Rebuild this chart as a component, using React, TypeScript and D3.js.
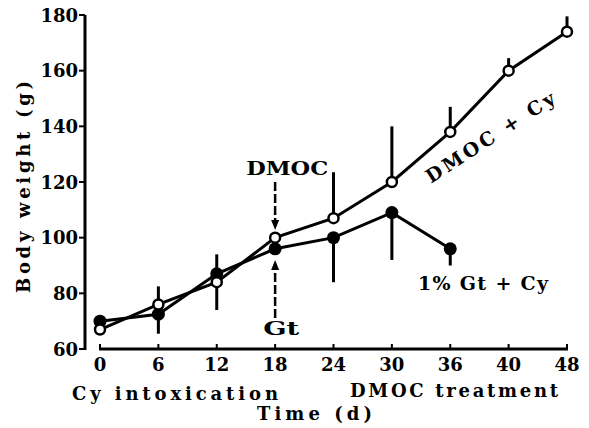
import React from "react";
import * as d3 from "d3";

const xLabels = ["0", "6", "12", "18", "24", "30", "36", "40", "48"];
const yTicks = [60, 80, 100, 120, 140, 160, 180];

// DMOC + Cy (open circles)
const dmocValues = [67, 76, 84, 100, 107, 120, 138, 160, 174];
const dmocErrUp = [0, 0, 10, 0, 16.5, 20, 9, 4.5, 5.5];
const dmocErrDown = [0, 0, 10, 0, 0, 0, 0, 0, 0];

// 1% Gt + Cy (filled circles)
const gtValues = [70, 72.5, 87, 96, 100, 109, 96];
const gtErrUp = [0, 10, 0, 0, 0, 0, 0];
const gtErrDown = [0, 7, 0, 0, 16, 17, 6];

const W = 589;
const H = 428;
const FONT = "'DejaVu Serif', serif";

export default function App() {
  const x = d3.scalePoint<string>().domain(xLabels).range([100, 567]);
  const y = d3.scaleLinear().domain([60, 180]).range([349, 15]);
  const line = d3
    .line<number>()
    .x((_, i) => x(xLabels[i]) as number)
    .y((d) => y(d));

  const errBars = (vals: number[], up: number[], down: number[], key: string) =>
    vals.map((v, i) =>
      up[i] || down[i] ? (
        <line
          key={key + i}
          x1={x(xLabels[i])}
          x2={x(xLabels[i])}
          y1={y(v + up[i])}
          y2={y(v - down[i])}
          stroke="#000"
          strokeWidth={3}
        />
      ) : null
    );

  const x18 = x("18") as number;

  return (
    <svg
      width={W}
      height={H}
      style={{ position: "absolute", left: 0, top: 0, background: "#fff" }}
      fontFamily={FONT}
    >
      <rect width={W} height={H} fill="#fff" />
      {/* Y axis */}
      <line x1={85} x2={85} y1={y(180)} y2={y(60) + 1} stroke="#000" strokeWidth={3} />
      {yTicks.map((t) => (
        <g key={t}>
          <line x1={79} x2={85} y1={y(t)} y2={y(t)} stroke="#000" strokeWidth={2} />
          <text
            x={78}
            y={y(t)}
            textAnchor="end"
            dominantBaseline="central"
            fontSize={18}
            fontWeight="bold"
          >
            {t}
          </text>
        </g>
      ))}
      {/* X axis */}
      <line x1={99} x2={568} y1={349} y2={349} stroke="#000" strokeWidth={3} />
      {xLabels.map((l) => (
        <g key={l}>
          <line x1={x(l)} x2={x(l)} y1={349} y2={344} stroke="#000" strokeWidth={2} />
          <text
            x={x(l)}
            y={364}
            textAnchor="middle"
            dominantBaseline="central"
            fontSize={18}
            fontWeight="bold"
          >
            {l}
          </text>
        </g>
      ))}

      {/* Axis titles */}
      <text
        transform="translate(23,187) rotate(-90)"
        textAnchor="middle"
        dominantBaseline="central"
        fontSize={18}
        fontWeight="bold"
        textLength={212}
        lengthAdjust="spacing"
      >
        Body weight (g)
      </text>
      <text x={72} y={393} dominantBaseline="central" fontSize={18} fontWeight="bold" textLength={206} lengthAdjust="spacing">
        Cy intoxication
      </text>
      <text x={350} y={390} dominantBaseline="central" fontSize={18} fontWeight="bold" textLength={208} lengthAdjust="spacing">
        DMOC treatment
      </text>
      <text x={257} y={413} dominantBaseline="central" fontSize={18} fontWeight="bold" textLength={115} lengthAdjust="spacing">
        Time (d)
      </text>

      {/* Annotation arrows at day 18 */}
      <text x={x18 + 12} y={168} textAnchor="middle" dominantBaseline="central" fontSize={19} fontWeight="bold" textLength={82} lengthAdjust="spacingAndGlyphs">
        DMOC
      </text>
      <line x1={x18} x2={x18} y1={182} y2={222} stroke="#000" strokeWidth={2.5} strokeDasharray="9 3" />
      <path d={`M${x18 - 4},${220} L${x18 + 4},${220} L${x18},${230} Z`} fill="#000" />
      <line x1={x18} x2={x18} y1={318} y2={266} stroke="#000" strokeWidth={2.5} strokeDasharray="9 3" />
      <path d={`M${x18 - 4},${270} L${x18 + 4},${270} L${x18},${260} Z`} fill="#000" />
      <text x={x18 + 6} y={328} textAnchor="middle" dominantBaseline="central" fontSize={19} fontWeight="bold" textLength={36} lengthAdjust="spacingAndGlyphs">
        Gt
      </text>

      {/* Error bars */}
      {errBars(dmocValues, dmocErrUp, dmocErrDown, "d")}
      {errBars(gtValues, gtErrUp, gtErrDown, "g")}

      {/* Lines */}
      <path d={line(gtValues) || ""} fill="none" stroke="#000" strokeWidth={3} />
      <path d={line(dmocValues) || ""} fill="none" stroke="#000" strokeWidth={3} />

      {/* Markers */}
      {gtValues.map((v, i) => (
        <circle key={"gc" + i} cx={x(xLabels[i])} cy={y(v)} r={6.5} fill="#000" />
      ))}
      {dmocValues.map((v, i) => (
        <circle key={"dc" + i} cx={x(xLabels[i])} cy={y(v)} r={5} fill="#fff" stroke="#000" strokeWidth={2.5} />
      ))}

      {/* Series labels */}
      <text
        transform="translate(490,137) rotate(-33)"
        textAnchor="middle"
        dominantBaseline="central"
        fontSize={19}
        fontWeight="bold"
        textLength={150}
        lengthAdjust="spacing"
      >
        DMOC + Cy
      </text>
      <text x={418} y={283} dominantBaseline="central" fontSize={19} fontWeight="bold" textLength={130} lengthAdjust="spacing">
        1% Gt + Cy
      </text>
    </svg>
  );
}
